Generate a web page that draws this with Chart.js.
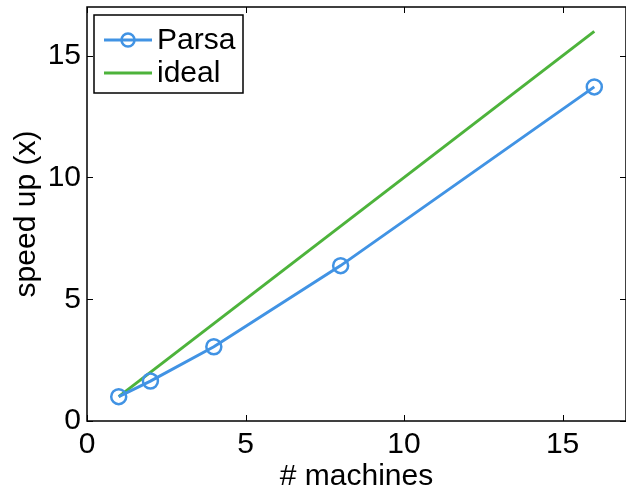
<!DOCTYPE html>
<html><head><meta charset="utf-8">
<script src="https://cdn.jsdelivr.net/npm/chart.js@4/dist/chart.umd.min.js"></script>
<style>html,body{margin:0;padding:0;background:#fff}#wrap{width:626px;height:487px}</style>
</head><body><div id="wrap"><canvas id="c" width="626" height="487"></canvas></div>
<script>
const machines = [1, 2, 4, 8, 16];
const parsaSpeedup = [1.0, 1.64, 3.05, 6.38, 13.72];
const idealMachines = [1, 16];
const idealSpeedup = [1, 16];
const xTicks = [0, 5, 10, 15];
const yTicks = [0, 5, 10, 15];
const seriesNames = ['Parsa', 'ideal'];

const BLUE = '#4193E4';
const GREEN = '#4DB33B';
const FONT = '"Liberation Sans", Arial, sans-serif';
const FS = 30;

const boxPlugin = {
  id: 'box',
  afterDraw(chart) {
    const {ctx, chartArea: a, scales} = chart;
    ctx.save();
    ctx.strokeStyle = '#000';
    ctx.lineWidth = 1.5;
    ctx.strokeRect(a.left, a.top, a.right - a.left, a.bottom - a.top);
    ctx.lineWidth = 1;
    const L = 6;
    xTicks.forEach(v => {
      const x = Math.round(scales.x.getPixelForValue(v)) + 0.5;
      ctx.beginPath();
      ctx.moveTo(x, a.bottom); ctx.lineTo(x, a.bottom - L);
      ctx.moveTo(x, a.top); ctx.lineTo(x, a.top + L);
      ctx.stroke();
    });
    yTicks.forEach(v => {
      const y = Math.round(scales.y.getPixelForValue(v)) + 0.5;
      ctx.beginPath();
      ctx.moveTo(a.left, y); ctx.lineTo(a.left + L, y);
      ctx.moveTo(a.right, y); ctx.lineTo(a.right - L, y);
      ctx.stroke();
    });
    // legend
    const lx = a.left + 7, ly = a.top + 8, lw = 149, lh = 78;
    ctx.fillStyle = '#fff';
    ctx.fillRect(lx, ly, lw, lh);
    ctx.strokeStyle = '#000';
    ctx.lineWidth = 1.5;
    ctx.strokeRect(lx, ly, lw, lh);
    const rows = [ly + 25, ly + 58];
    chart.data.datasets.forEach((ds, i) => {
      const y = rows[i];
      ctx.strokeStyle = ds.borderColor;
      ctx.lineWidth = 3;
      ctx.beginPath();
      ctx.moveTo(lx + 10, y); ctx.lineTo(lx + 58, y);
      ctx.stroke();
      if (ds.pointRadius > 0) {
        ctx.lineWidth = ds.pointBorderWidth;
        ctx.beginPath();
        ctx.arc(lx + 34, y, 6.5, 0, Math.PI * 2);
        ctx.stroke();
      }
      ctx.fillStyle = '#000';
      ctx.font = FS + 'px ' + FONT;
      ctx.textBaseline = 'middle';
      ctx.textAlign = 'left';
      ctx.fillText(ds.label, lx + 63, y + 1);
    });
    ctx.restore();
  }
};

new Chart(document.getElementById('c'), {
  type: 'line',
  data: {
    datasets: [
      {
        label: seriesNames[0],
        data: machines.map((m, i) => ({x: m, y: parsaSpeedup[i]})),
        borderColor: BLUE, backgroundColor: 'rgba(0,0,0,0)',
        borderWidth: 3, pointRadius: 7.5, pointBorderWidth: 2.5,
        pointBackgroundColor: 'rgba(0,0,0,0)', pointBorderColor: BLUE,
        tension: 0, order: 1
      },
      {
        label: seriesNames[1],
        data: idealMachines.map((m, i) => ({x: m, y: idealSpeedup[i]})),
        borderColor: GREEN, backgroundColor: 'rgba(0,0,0,0)',
        borderWidth: 3, pointRadius: 0, tension: 0, order: 2
      }
    ]
  },
  options: {
    responsive: false, animation: false,
    layout: {autoPadding: false, padding: {top: 7, right: -1, left: 0, bottom: 0}},
    plugins: {legend: {display: false}, tooltip: {enabled: false}},
    scales: {
      x: {
        type: 'linear', min: 0, max: 17,
        afterBuildTicks: s => { s.ticks = xTicks.map(v => ({value: v})); },
        afterFit: s => { s.height = 66; s.paddingLeft = 0; s.paddingRight = 0; },
        grid: {display: false, drawTicks: false},
        border: {display: false},
        ticks: {color: '#000', font: {size: FS, family: FONT}, padding: 6, maxRotation: 0},
        title: {display: true, text: '# machines', color: '#000', font: {size: FS, family: FONT}, padding: {top: -8, bottom: -8}}
      },
      y: {
        type: 'linear', min: 0, max: 17,
        afterBuildTicks: s => { s.ticks = yTicks.map(v => ({value: v})); },
        afterFit: s => { s.width = 87; s.paddingTop = 0; s.paddingBottom = 0; },
        grid: {display: false, drawTicks: false},
        border: {display: false},
        ticks: {color: '#000', font: {size: FS, family: FONT}, padding: 6},
        title: {display: true, text: 'speed up (x)', color: '#000', font: {size: FS, family: FONT}, padding: {top: 9, bottom: 9}}
      }
    }
  },
  plugins: [boxPlugin]
});
</script></body></html>
